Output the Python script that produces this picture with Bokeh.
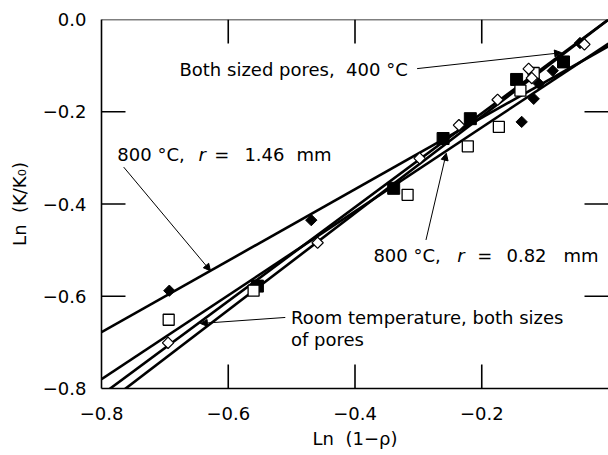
from bokeh.plotting import figure
from bokeh.models import LinearAxis, FixedTicker, Range1d, Arrow, NormalHead, Label
from bokeh.embed import file_html
from bokeh.resources import INLINE

# ---- data ----
# 800 C, r = 1.46 mm  (filled diamonds)
d146_x = [-0.693, -0.469, -0.137, -0.118, -0.110, -0.088, -0.045]
d146_y = [-0.588, -0.435, -0.222, -0.172, -0.139, -0.111, -0.051]
# 400 C, both sized pores (filled squares)
s400_x = [-0.554, -0.339, -0.261, -0.218, -0.145, -0.071]
s400_y = [-0.578, -0.366, -0.258, -0.215, -0.130, -0.092]
# 800 C, r = 0.82 mm (open squares)
s082_x = [-0.694, -0.560, -0.317, -0.222, -0.173, -0.139, -0.118]
s082_y = [-0.651, -0.588, -0.380, -0.275, -0.233, -0.154, -0.116]
# room temperature, both sizes (open diamonds)
rt_x = [-0.695, -0.459, -0.298, -0.236, -0.175, -0.126, -0.121, -0.038]
rt_y = [-0.701, -0.484, -0.301, -0.229, -0.174, -0.107, -0.127, -0.054]

# fitted lines
fit_x = [-0.8, 0.0]
fit146_y = [-0.678, -0.058]
fit082_y = [-0.780, -0.052]
fitrt_y = [-0.814, 0.0]
fit400_y = [-0.840, 0.0]

x_ticks = [-0.8, -0.6, -0.4, -0.2]
y_ticks = [-0.8, -0.6, -0.4, -0.2, 0.0]
x_tick_labels = ["\u22120.8", "\u22120.6", "\u22120.4", "\u22120.2"]
y_tick_labels = ["\u22120.8", "\u22120.6", "\u22120.4", "\u22120.2", "0.0"]

FONT = "DejaVu Sans"
NB = "\u00a0"

X0, X1, Y0, Y1 = -0.8, 0.0, -0.8, 0.0
p = figure(width=608, height=455, output_backend="svg", toolbar_location=None,
           x_range=Range1d(X0, X1), y_range=Range1d(Y0, Y1),
           x_axis_location=None, y_axis_location=None,
           min_border_left=101, min_border_right=0, min_border_top=19, min_border_bottom=67,
           background_fill_color="white", border_fill_color="white",
           outline_line_color=None)
p.grid.visible = False


def style_axis(ax, ticks, labels):
    ax.ticker = FixedTicker(ticks=ticks, minor_ticks=[])
    ax.major_tick_in = 0
    ax.major_tick_out = 0
    ax.major_tick_line_color = None
    ax.minor_tick_line_color = None
    ax.axis_line_width = 1.6
    ax.axis_line_color = "black"
    ax.major_label_overrides = {t: l for t, l in zip(ticks, labels)}
    ax.major_label_text_font = FONT
    ax.major_label_text_font_size = "18px"
    ax.major_label_text_color = "black"
    ax.axis_label_text_font = FONT
    ax.axis_label_text_font_size = "18px"
    ax.axis_label_text_font_style = "normal"
    ax.axis_label_text_color = "black"


left = LinearAxis(axis_label="Ln" + NB + NB + "(K/K\u2080)")
style_axis(left, y_ticks, y_tick_labels)
left.major_label_standoff = 15
left.axis_label_standoff = 10
p.add_layout(left, "left")

bottom = LinearAxis(axis_label="Ln" + NB + NB + "(1\u2212\u03c1)")
style_axis(bottom, x_ticks, x_tick_labels)
bottom.major_label_standoff = 18
bottom.axis_label_standoff = 5
p.add_layout(bottom, "below")

# top frame line
p.line([X0, X1], [Y1, Y1], line_color="black", line_width=1.6)

# inward tick marks on all four sides (24 px long)
tick_dy = 24 / 460.0
tick_dx = 24 / 634.0
for t in x_ticks:
    if X0 < t < X1:
        p.line([t, t], [Y0, Y0 + tick_dy], line_color="black", line_width=1.6)
        p.line([t, t], [Y1, Y1 - tick_dy], line_color="black", line_width=1.6)
for t in y_ticks:
    if Y0 < t < Y1:
        p.line([X0, X0 + tick_dx], [t, t], line_color="black", line_width=1.6)
        p.line([X1, X1 - tick_dx], [t, t], line_color="black", line_width=1.6)

# fitted lines
for ys in (fit146_y, fit082_y, fitrt_y, fit400_y):
    p.line(fit_x, ys, line_color="black", line_width=2.6)

# points
p.scatter(d146_x, d146_y, marker="square", angle=0.785398, size=8,
          fill_color="black", line_color="black", line_width=1)
p.scatter(s400_x, s400_y, marker="square", size=12,
          fill_color="black", line_color="black", line_width=1)
p.scatter(s082_x, s082_y, marker="square", size=11,
          fill_color="white", line_color="black", line_width=1.3)
p.scatter(rt_x, rt_y, marker="square", angle=0.785398, size=8,
          fill_color="white", line_color="black", line_width=1.2)


# annotations
def arrow(x0, y0, x1, y1):
    p.add_layout(Arrow(end=NormalHead(size=7, fill_color="black", line_color="black"),
                       x_start=x0, y_start=y0, x_end=x1, y_end=y1,
                       line_width=1, line_color="black"))

arrow(-0.302, -0.1065, -0.074, -0.072)
arrow(-0.765, -0.320, -0.628, -0.545)
arrow(-0.288, -0.478, -0.256, -0.290)
arrow(-0.510, -0.646, -0.644, -0.659)


def label(x, y, text, style="normal"):
    p.add_layout(Label(x=x, y=y, text=text, text_font=FONT, text_font_size="18px",
                       text_font_style=style, text_baseline="middle", text_align="left",
                       text_color="black"))

label(-0.677, -0.109, "Both sized pores," + NB + NB + "400" + NB + "\u00b0C")
label(-0.775, -0.293, "800" + NB + "\u00b0C,")
label(-0.647, -0.293, "r", "italic")
label(-0.622, -0.293, "=")
label(-0.5745, -0.293, "1.46")
label(-0.4924, -0.293, "mm")
label(-0.371, -0.511, "800" + NB + "\u00b0C,")
label(-0.2385, -0.511, "r", "italic")
label(-0.207, -0.511, "=")
label(-0.161, -0.511, "0.82")
label(-0.071, -0.511, "mm")
label(-0.501, -0.646, "Room temperature, both sizes")
label(-0.501, -0.693, "of pores")

open("out.html", "w").write(file_html(p, INLINE))
